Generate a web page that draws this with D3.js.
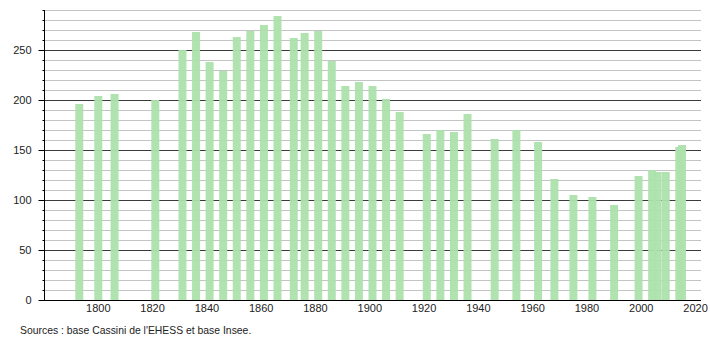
<!DOCTYPE html>
<html>
  <head>
    <meta charset="utf-8">
    <title>Population</title>
    <script type="text/javascript" src="https://cdn.jsdelivr.net/npm/d3@7"></script>
    <style type="text/css">
      body { margin: 0; background: #fff; }
      text { font-family: "Liberation Sans", Arial, sans-serif; fill: #222; }
    </style>
  </head>
  <body>
    <script type="text/javascript">
      var years = [1793, 1800, 1806, 1821, 1831, 1836, 1841, 1846, 1851, 1856, 1861, 1866,
                   1872, 1876, 1881, 1886, 1891, 1896, 1901, 1906, 1911, 1921, 1926, 1931,
                   1936, 1946, 1954, 1962, 1968, 1975, 1982, 1990, 1999, 2004, 2006, 2009,
                   2014, 2015];
      var population = [196, 204, 206, 200, 250, 268, 238, 229, 263, 269, 275, 284,
                        262, 267, 269, 239, 214, 218, 214, 201, 188, 166, 170, 168,
                        186, 161, 170, 158, 121, 105, 103, 95, 124, 130, 128, 128,
                        153, 155];
      var xTicks = [1800, 1820, 1840, 1860, 1880, 1900, 1920, 1940, 1960, 1980, 2000, 2020];
      var yTicks = [0, 50, 100, 150, 200, 250];
      var source = "Sources : base Cassini de l'EHESS et base Insee.";

      var w = 710;
      var h = 340;
      var barWidth = 8;

      var svg = d3.select('body')
                  .append('svg')
                  .attr('width', w)
                  .attr('height', h);

      var x = d3.scaleLinear().domain([1780, 2022]).range([44, 701]);
      var y = d3.scaleLinear().domain([0, 290]).range([300, 10]);

      // minor grid every 10, major every 50
      var gridVals = d3.range(10, 291, 10);
      svg.selectAll('line.grid')
        .data(gridVals)
        .enter()
        .append('line')
        .attr('class', 'grid')
        .attr('x1', x(1780))
        .attr('x2', x(2022))
        .attr('y1', function(d) {return Math.round(y(d)) + 0.5;})
        .attr('y2', function(d) {return Math.round(y(d)) + 0.5;})
        .attr('stroke', function(d) {return d % 50 === 0 ? '#3a3a3a' : '#c4c4c4';})
        .attr('stroke-width', 1);

      svg.selectAll('rect')
        .data(years)
        .enter()
        .append('rect')
        .attr('x', function(d) {return x(d) - barWidth / 2;})
        .attr('y', function(d, i) {return y(population[i]);})
        .attr('width', barWidth)
        .attr('height', function(d, i) {return y(0) - y(population[i]);})
        .attr('fill', '#ade2ad')
        .attr('fill-opacity', 0.95);

      // y axis with minor ticks
      var yAxis = svg.append('g').attr('transform', 'translate(44.5,0)');
      yAxis.append('line')
        .attr('x1', 0).attr('x2', 0)
        .attr('y1', y(290)).attr('y2', y(0))
        .attr('stroke', '#000');
      yAxis.selectAll('line.tick')
        .data(d3.range(0, 291, 10))
        .enter()
        .append('line')
        .attr('class', 'tick')
        .attr('x1', function(d) {return d % 50 === 0 ? -6 : -2;})
        .attr('x2', 0)
        .attr('y1', function(d) {return Math.round(y(d)) + 0.5;})
        .attr('y2', function(d) {return Math.round(y(d)) + 0.5;})
        .attr('stroke', '#000');
      yAxis.selectAll('text')
        .data(yTicks)
        .enter()
        .append('text')
        .text(function(d) {return d;})
        .attr('x', -13)
        .attr('y', function(d) {return y(d) + 4;})
        .attr('font-size', '11px')
        .attr('text-anchor', 'end');

      // x axis
      svg.append('line')
        .attr('x1', 39).attr('x2', x(2022))
        .attr('y1', 300.5).attr('y2', 300.5)
        .attr('stroke', '#000');
      svg.selectAll('text.xlab')
        .data(xTicks)
        .enter()
        .append('text')
        .attr('class', 'xlab')
        .text(function(d) {return d;})
        .attr('x', function(d) {return x(d);})
        .attr('y', 312)
        .attr('font-size', '11px')
        .attr('text-anchor', 'middle');

      svg.append('text')
        .text(source)
        .attr('x', 20)
        .attr('y', 334)
        .attr('font-size', '10.4px');
    </script>
  </body>
</html>
